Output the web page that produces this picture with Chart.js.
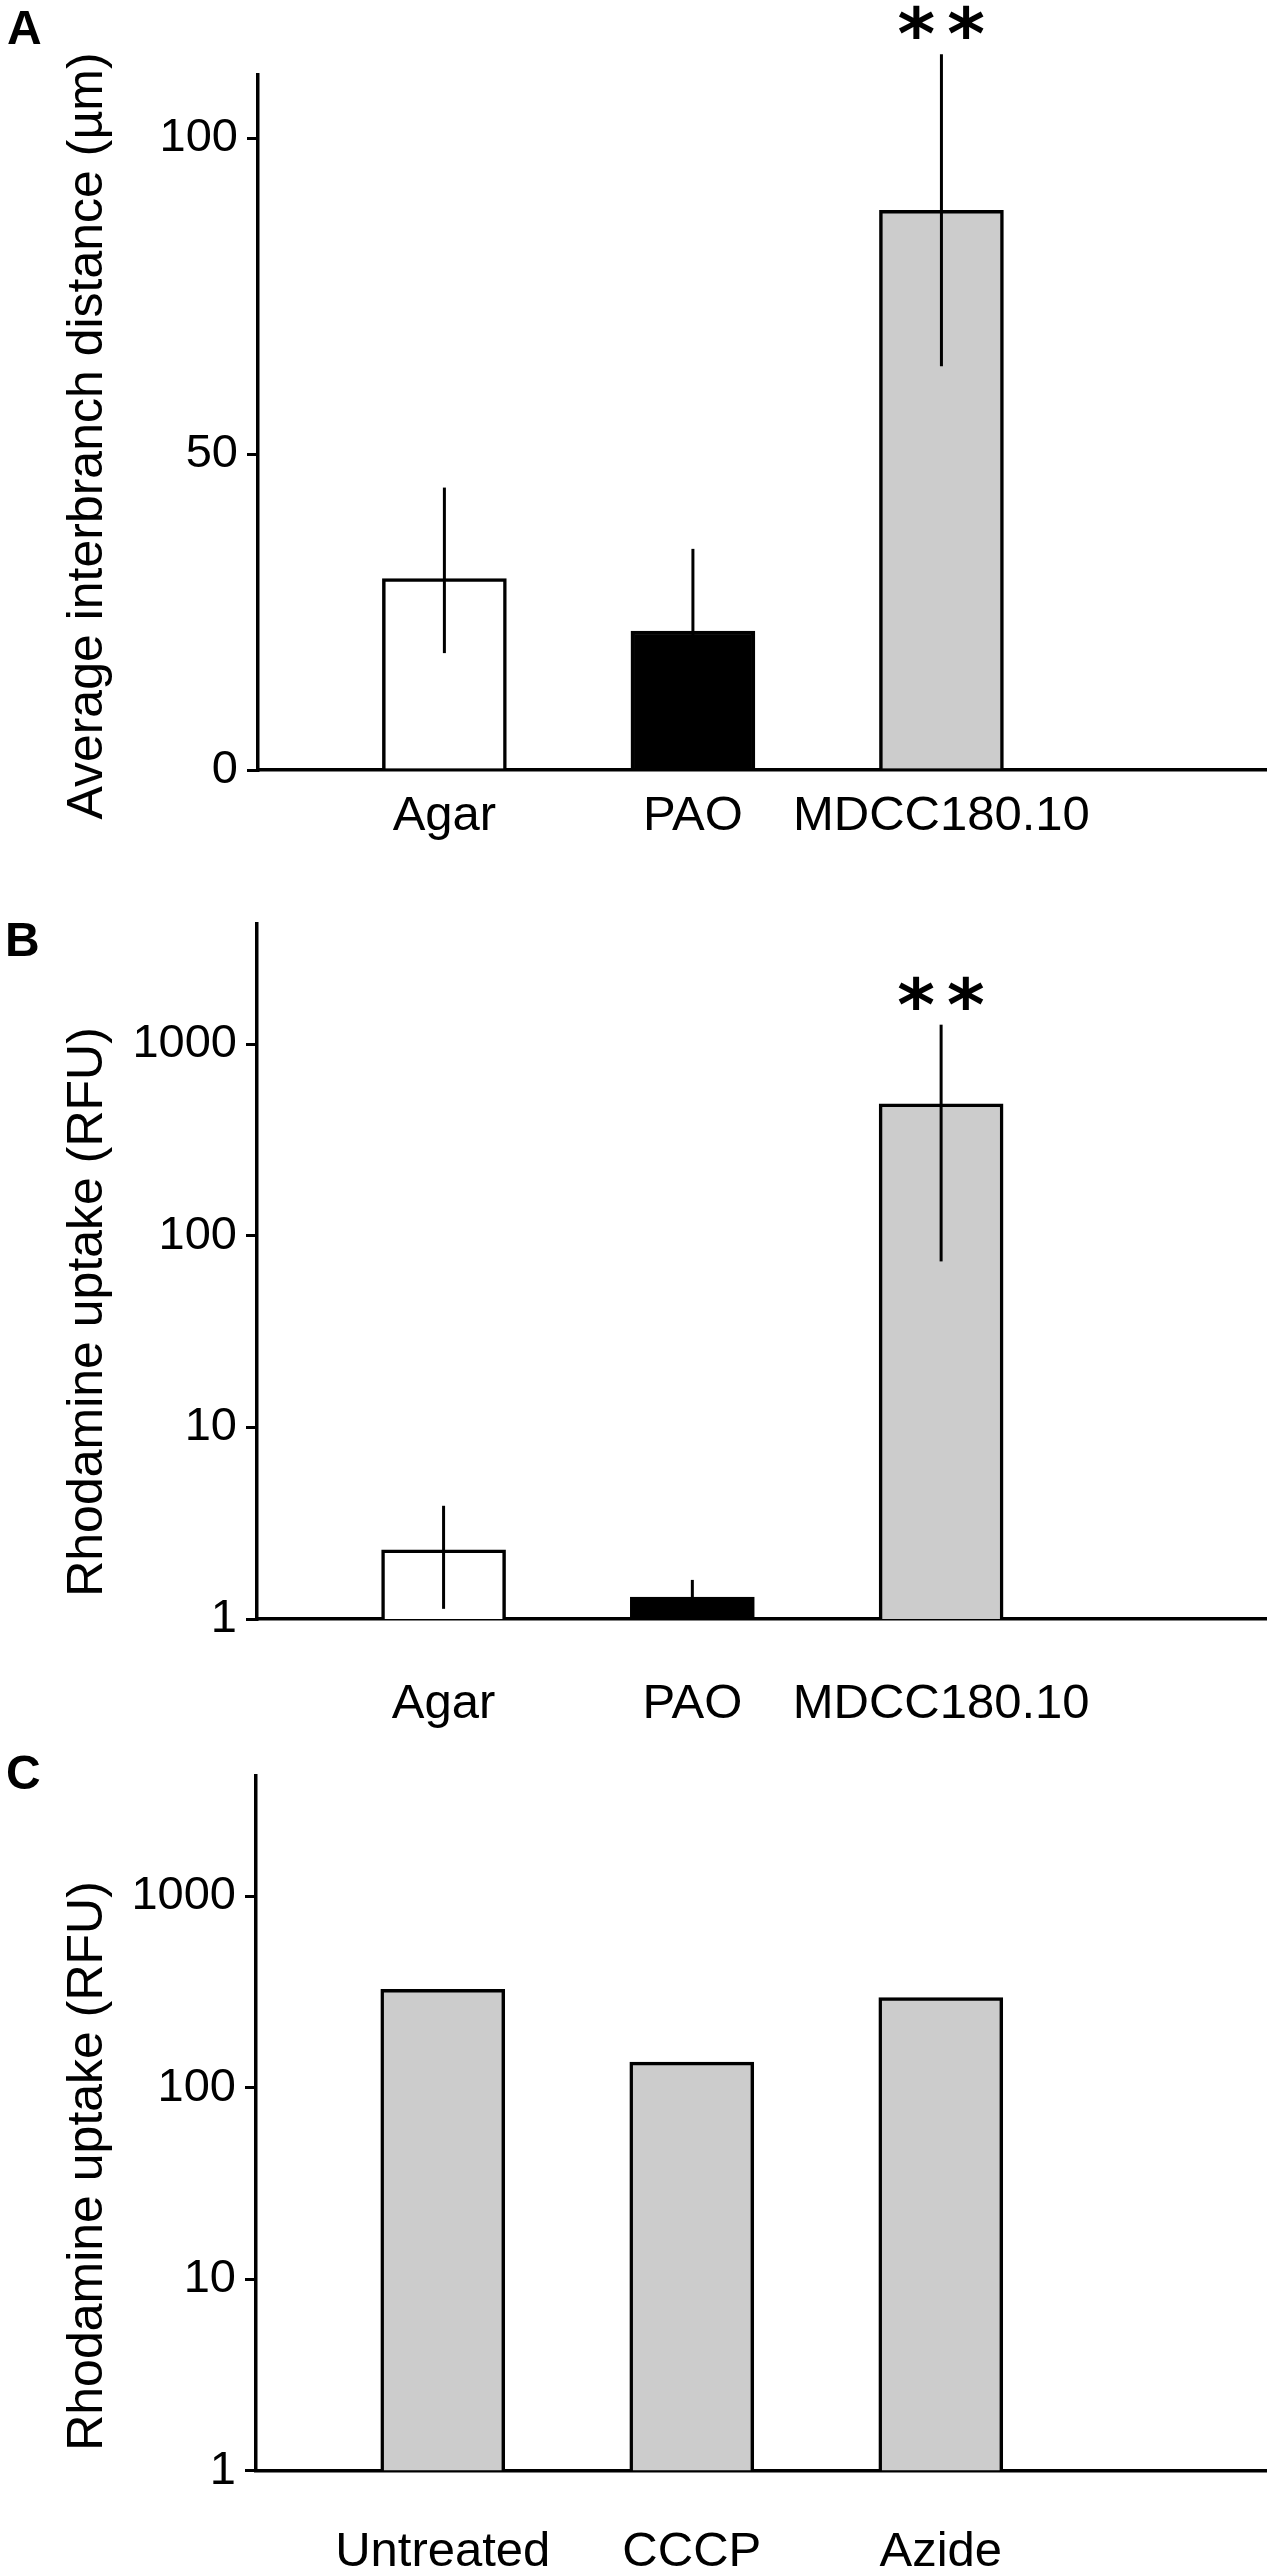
<!DOCTYPE html>
<html>
<head>
<meta charset="utf-8">
<script src="https://cdn.jsdelivr.net/npm/chart.js@4.4.1/dist/chart.umd.min.js"></script>
<style>
  html, body { margin: 0; padding: 0; background: #fff; }
  body { position: relative; width: 1267px; height: 2566px; overflow: hidden; }
  .panel { position: absolute; left: 0; width: 1267px; }
  .panel canvas { display: block; }
  .letter { position: absolute; font: bold 48px "Liberation Sans", Arial, sans-serif; line-height: 48px; color: #000; }
</style>
</head>
<body>
<div class="panel" style="top:0px;height:880px"><canvas id="chartA" width="1267" height="880" style="width:1267px;height:880px"></canvas></div>
<div class="panel" style="top:860px;height:900px"><canvas id="chartB" width="1267" height="900" style="width:1267px;height:900px"></canvas></div>
<div class="panel" style="top:1700px;height:866px"><canvas id="chartC" width="1267" height="866" style="width:1267px;height:866px"></canvas></div>
<div class="letter" style="left:7px;top:4px">A</div>
<div class="letter" style="left:5px;top:916px">B</div>
<div class="letter" style="left:6px;top:1749px">C</div>

<script>
// values
const strainLabels = ['Agar', 'PAO', 'MDCC180.10'];
const inhibitorLabels = ['Untreated', 'CCCP', 'Azide'];

const distanceMean = [30.3, 22.0, 88.6];
const distanceLow = [18.5, 9.0, 63.9];
const distanceHigh = [44.7, 35.0, 113.3];

const uptakeMean = [2.3, 1.3, 490];
const uptakeLow = [1.13, 1.06, 73.6];
const uptakeHigh = [3.9, 1.6, 1267];

const inhibitorMean = [327, 136, 296];

const strainMarks = ['', '', '**'];

const linearTicks = [0, 50, 100];
const logTicks = [1, 10, 100, 1000];

const strainColors = ['#ffffff', '#000000', '#cccccc'];
const inhibitorColors = ['#cccccc', '#cccccc', '#cccccc'];

const FONT = '"Liberation Sans", Arial, Helvetica, sans-serif';

// error bars + significance stars, drawn through the chart scales
const errorBars = {
  id: 'errorBars',
  afterDatasetsDraw(chart) {
    const ds = chart.data.datasets[0];
    const { ctx, scales: { x, y } } = chart;
    ctx.save();
    ctx.strokeStyle = '#000';
    ctx.lineWidth = 3;
    (ds.errLow || []).forEach((lo, i) => {
      const px = x.getPixelForValue(i);
      ctx.beginPath();
      ctx.moveTo(px, y.getPixelForValue(lo));
      ctx.lineTo(px, y.getPixelForValue(ds.errHigh[i]));
      ctx.stroke();
    });
    (ds.marks || []).forEach((mark, i) => {
      if (!mark) return;
      ctx.font = 'bold 72px "DejaVu Sans", sans-serif';
      ctx.letterSpacing = '12px';
      ctx.fillStyle = '#000';
      ctx.textAlign = 'left';
      ctx.textBaseline = 'alphabetic';
      const m = ctx.measureText(mark);
      const w = m.actualBoundingBoxRight + m.actualBoundingBoxLeft;
      const cx = x.getPixelForValue(i);
      const cy = y.getPixelForValue(ds.errHigh[i]) - 32;
      ctx.fillText(mark, cx - w / 2 + m.actualBoundingBoxLeft,
        cy + (m.actualBoundingBoxAscent - m.actualBoundingBoxDescent) / 2);
    });
    ctx.restore();
  }
};

// rotated y title placed like in the figure
const sideTitle = {
  id: 'sideTitle',
  afterDraw(chart, args, opts) {
    if (!opts.text) return;
    const { ctx } = chart;
    ctx.save();
    ctx.translate(opts.x, opts.y);
    ctx.rotate(-Math.PI / 2);
    ctx.font = '50px ' + FONT;
    ctx.fillStyle = '#000';
    ctx.textAlign = 'center';
    ctx.textBaseline = 'alphabetic';
    ctx.fillText(opts.text, 0, 0);
    ctx.restore();
  }
};

const buildPanel = (canvasId, p) => new Chart(document.getElementById(canvasId), {
  type: 'bar',
  data: {
    datasets: [{
      data: p.values.map((v, i) => ({ x: i, y: v })),
      backgroundColor: p.colors,
      borderColor: '#000',
      borderWidth: 3.5,
      barThickness: 124,
      errLow: p.low,
      errHigh: p.high,
      marks: p.marks
    }]
  },
  options: {
    responsive: false,
    animation: false,
    devicePixelRatio: 1,
    layout: { padding: { top: p.padTop, left: 0, right: 0, bottom: 0 } },
    plugins: {
      legend: { display: false },
      tooltip: { enabled: false },
      sideTitle: { text: p.title, x: 102, y: p.titleY }
    },
    scales: {
      x: {
        type: 'linear',
        min: -0.75,
        max: 3.31,
        offset: false,
        grid: { display: false, drawTicks: false },
        border: { display: true, color: '#000', width: 3.5 },
        afterBuildTicks: (scale) => { scale.ticks = p.labels.map((_, i) => ({ value: i })); },
        afterFit: (scale) => { scale.height = p.xHeight; },
        ticks: {
          color: '#000',
          font: { family: FONT, size: 49 },
          padding: p.labelPad,
          maxRotation: 0,
          minRotation: 0,
          autoSkip: false,
          callback: (v) => p.labels[v]
        }
      },
      y: {
        type: p.yType,
        min: p.yMin,
        max: p.yMax,
        grid: { display: true, drawOnChartArea: false, drawTicks: true, tickLength: 11, color: '#000', lineWidth: 3 },
        border: { display: true, color: '#000', width: 3.5 },
        afterBuildTicks: (scale) => { scale.ticks = p.yTicks.map((v) => ({ value: v })); },
        afterFit: (scale) => { scale.width = p.yWidth; },
        ticks: {
          color: '#000',
          font: { family: FONT, size: 47 },
          padding: 9,
          autoSkip: false,
          callback: (v) => String(v)
        }
      }
    }
  },
  plugins: [errorBars, sideTitle]
});

buildPanel('chartA', {
  labels: strainLabels, values: distanceMean, low: distanceLow, high: distanceHigh,
  marks: strainMarks, colors: strainColors,
  title: 'Average interbranch distance (µm)', titleY: 436,
  yType: 'linear', yMin: 0, yMax: 110, yTicks: linearTicks,
  padTop: 75, xHeight: 110, labelPad: 17, yWidth: 258
});

buildPanel('chartB', {
  labels: strainLabels, values: uptakeMean, low: uptakeLow, high: uptakeHigh,
  marks: strainMarks, colors: strainColors,
  title: 'Rhodamine uptake (RFU)', titleY: 1312 - 860,
  yType: 'logarithmic', yMin: 1, yMax: 4250, yTicks: logTicks,
  padTop: 64, xHeight: 141, labelPad: 56, yWidth: 257
});

buildPanel('chartC', {
  labels: inhibitorLabels, values: inhibitorMean,
  colors: inhibitorColors,
  title: 'Rhodamine uptake (RFU)', titleY: 2166 - 1700,
  yType: 'logarithmic', yMin: 1, yMax: 4250, yTicks: logTicks,
  padTop: 76, xHeight: 95.4, labelPad: 52, yWidth: 256
});
</script>
</body>
</html>
